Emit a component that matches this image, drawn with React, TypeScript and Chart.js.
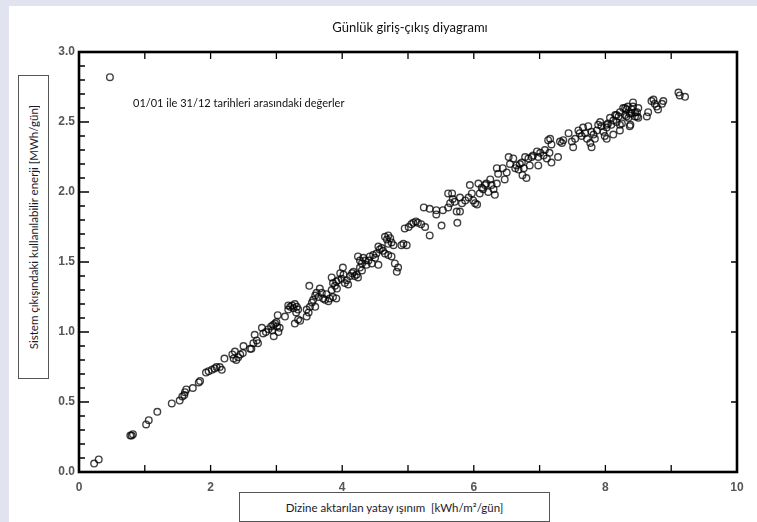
import React, { useEffect, useRef } from 'react';
import Chart from 'chart.js/auto';

const chartTitle = 'Günlük giriş-çıkış diyagramı';
const noteText = '01/01 ile 31/12 tarihleri arasındaki değerler';
const xAxisTitle = 'Dizine aktarılan yatay ışınım  [kWh/m²/gün]';
const yAxisTitle = 'Sistem çıkışındaki kullanılabilir enerji [MWh/gün]';

const xTickValues = [0, 2, 4, 6, 8, 10];
const xTickLabels = ['0', '2', '4', '6', '8', '10'];
const yTickValues = [0, 0.5, 1, 1.5, 2, 2.5, 3];
const yTickLabels = ['0.0', '0.5', '1.0', '1.5', '2.0', '2.5', '3.0'];

// [horizontal irradiation kWh/m²/day, usable energy MWh/day]
const outlierDays = [[0.47, 2.82]];
const segA = [
  [0.23, 0.06], [0.30, 0.09], [0.78, 0.26], [0.80, 0.26], [0.82, 0.27], [1.02, 0.34], [1.06, 0.37],
  [1.19, 0.43], [1.41, 0.49], [1.53, 0.51], [1.57, 0.54], [1.60, 0.55], [1.61, 0.57], [1.63, 0.59],
  [1.73, 0.60], [1.82, 0.64], [1.84, 0.65], [1.93, 0.71], [1.97, 0.72], [2.02, 0.73], [2.06, 0.74],
  [2.09, 0.75], [2.14, 0.75], [2.17, 0.73], [2.21, 0.81],
];
const segB = [
  [2.33, 0.84], [2.35, 0.81], [2.37, 0.86], [2.39, 0.80], [2.42, 0.82], [2.45, 0.84], [2.49, 0.85],
  [2.50, 0.90], [2.60, 0.88], [2.62, 0.88], [2.65, 0.92], [2.67, 0.98], [2.70, 0.94], [2.72, 0.92],
  [2.78, 1.03], [2.80, 0.99], [2.84, 1.00], [2.88, 1.02], [2.92, 1.04], [2.94, 1.01], [2.95, 1.05],
  [2.96, 0.97], [2.98, 1.06], [3.00, 1.07], [3.01, 1.04], [3.02, 1.12], [3.03, 1.00], [3.05, 1.03],
  [3.13, 1.11], [3.18, 1.16], [3.18, 1.19], [3.21, 1.18], [3.24, 1.19], [3.26, 1.17], [3.28, 1.20],
  [3.28, 1.06], [3.30, 1.14], [3.31, 1.18], [3.33, 1.16], [3.33, 1.09], [3.36, 1.08],
];
const segC = [
  [3.46, 1.16], [3.46, 1.11], [3.49, 1.14], [3.50, 1.33], [3.51, 1.18], [3.54, 1.21], [3.56, 1.23],
  [3.59, 1.26], [3.59, 1.18], [3.61, 1.28], [3.64, 1.25], [3.66, 1.31], [3.69, 1.28], [3.71, 1.24],
  [3.74, 1.23], [3.76, 1.27], [3.79, 1.22], [3.81, 1.24], [3.84, 1.30], [3.84, 1.39], [3.86, 1.25],
  [3.86, 1.35], [3.89, 1.33], [3.91, 1.36], [3.91, 1.24], [3.92, 1.31], [3.94, 1.37], [3.97, 1.42],
  [3.99, 1.38], [4.01, 1.46], [4.02, 1.41], [4.04, 1.35], [4.07, 1.37], [4.09, 1.34], [4.12, 1.40],
  [4.15, 1.42], [4.17, 1.43], [4.19, 1.40], [4.22, 1.41], [4.24, 1.39], [4.27, 1.46], [4.30, 1.44],
];
const segD = [
  [4.24, 1.54], [4.27, 1.51], [4.30, 1.49], [4.32, 1.53], [4.35, 1.51], [4.37, 1.48], [4.40, 1.51],
  [4.42, 1.54], [4.45, 1.49], [4.47, 1.55], [4.50, 1.53], [4.52, 1.56], [4.55, 1.61], [4.55, 1.48],
  [4.57, 1.59], [4.60, 1.60], [4.62, 1.58], [4.65, 1.56], [4.65, 1.68], [4.68, 1.66], [4.70, 1.69],
  [4.70, 1.63], [4.70, 1.55], [4.73, 1.67], [4.75, 1.64], [4.75, 1.54], [4.78, 1.62], [4.80, 1.49],
  [4.83, 1.43], [4.85, 1.46], [4.90, 1.62], [4.93, 1.63], [4.98, 1.62], [4.95, 1.74], [5.01, 1.75],
  [5.05, 1.77], [5.08, 1.78], [5.12, 1.79], [5.15, 1.78], [5.20, 1.77], [5.26, 1.75], [5.33, 1.69],
];
const segE = [
  [5.24, 1.89], [5.33, 1.88], [5.43, 1.87], [5.43, 1.84], [5.51, 1.76], [5.53, 1.87], [5.61, 1.89],
  [5.64, 1.92], [5.61, 1.99], [5.67, 1.99], [5.68, 1.95], [5.71, 1.93], [5.74, 1.86], [5.75, 1.78],
  [5.79, 1.96], [5.82, 1.92], [5.79, 1.86], [5.87, 1.94], [5.92, 1.96], [5.94, 2.05], [5.97, 1.99],
  [5.99, 1.94], [6.02, 1.92], [6.05, 1.91], [6.07, 2.06], [6.09, 1.99], [6.12, 2.03], [6.14, 2.02],
  [6.17, 2.05], [6.19, 2.06], [6.22, 2.00], [6.25, 2.09], [6.27, 2.05], [6.30, 2.02], [6.32, 1.98],
  [6.35, 2.06], [6.35, 2.17], [6.37, 2.13],
];
const segF = [
  [6.44, 2.17], [6.47, 2.09], [6.50, 2.14], [6.53, 2.25], [6.55, 2.20], [6.60, 2.24], [6.63, 2.17],
  [6.65, 2.19], [6.68, 2.16], [6.70, 2.20], [6.73, 2.21], [6.74, 2.12], [6.76, 2.17], [6.78, 2.25],
  [6.80, 2.10], [6.83, 2.24], [6.85, 2.19], [6.88, 2.25], [6.90, 2.26], [6.96, 2.29], [6.98, 2.25],
  [6.98, 2.19], [7.01, 2.28], [7.06, 2.26], [7.08, 2.30], [7.11, 2.24], [7.13, 2.37], [7.15, 2.28],
  [7.16, 2.38], [7.18, 2.34], [7.18, 2.21], [7.28, 2.25], [7.31, 2.36], [7.34, 2.35], [7.36, 2.37],
];
const segG = [
  [7.44, 2.42], [7.49, 2.36], [7.51, 2.32], [7.54, 2.38], [7.59, 2.44], [7.61, 2.42], [7.64, 2.40],
  [7.66, 2.46], [7.69, 2.42], [7.72, 2.38], [7.74, 2.47], [7.77, 2.35], [7.79, 2.32], [7.79, 2.43],
  [7.82, 2.41], [7.84, 2.38], [7.87, 2.44], [7.89, 2.48], [7.92, 2.50], [7.94, 2.47], [7.97, 2.43],
  [7.99, 2.40], [8.02, 2.46], [8.02, 2.38], [8.02, 2.48], [8.04, 2.49], [8.07, 2.53], [8.09, 2.48],
  [8.12, 2.51], [8.12, 2.41], [8.15, 2.55], [8.17, 2.50], [8.17, 2.55], [8.20, 2.54], [8.22, 2.57],
  [8.22, 2.48], [8.22, 2.44], [8.25, 2.49], [8.27, 2.60], [8.30, 2.55], [8.30, 2.60], [8.32, 2.59],
  [8.32, 2.54], [8.34, 2.61], [8.35, 2.53], [8.37, 2.47], [8.37, 2.56], [8.38, 2.48], [8.40, 2.56],
  [8.40, 2.59], [8.42, 2.61], [8.42, 2.64], [8.45, 2.57], [8.45, 2.54], [8.48, 2.54], [8.48, 2.57],
  [8.50, 2.60], [8.50, 2.53],
];
const segH = [
  [8.63, 2.54], [8.65, 2.57], [8.70, 2.65], [8.73, 2.66], [8.75, 2.63], [8.78, 2.61], [8.80, 2.59],
  [8.86, 2.63], [8.88, 2.65], [9.11, 2.71], [9.13, 2.69], [9.21, 2.68],
];

const allDays = [...outlierDays, ...segA, ...segB, ...segC, ...segD, ...segE, ...segF, ...segG, ...segH];

const framePlugin = {
  id: 'frameTicks',
  afterDatasetsDraw(chart: any) {
    const { ctx, chartArea: a, scales } = chart;
    const xs = scales.x;
    const ys = scales.y;
    ctx.save();
    ctx.strokeStyle = '#000';
    ctx.lineWidth = 1.3;
    ctx.beginPath();
    for (let v = 0; v <= 10; v++) {
      const px = xs.getPixelForValue(v);
      ctx.moveTo(px, a.bottom);
      ctx.lineTo(px, a.bottom - 7);
      ctx.moveTo(px, a.top);
      ctx.lineTo(px, a.top + 7);
    }
    for (let i = 0; i <= 30; i++) {
      const py = ys.getPixelForValue(i / 10);
      const major = i % 5 === 0;
      ctx.moveTo(a.left, py);
      ctx.lineTo(a.left + (major ? 10 : 6), py);
      if (major) {
        ctx.moveTo(a.right, py);
        ctx.lineTo(a.right - 6, py);
      }
    }
    ctx.stroke();
    ctx.lineWidth = 2.6;
    ctx.strokeRect(a.left, a.top, a.right - a.left, a.bottom - a.top);
    ctx.restore();
  },
};

export default function App() {
  const canvasRef = useRef<HTMLCanvasElement | null>(null);

  useEffect(() => {
    const canvas = canvasRef.current;
    if (!canvas) return;
    const tickFont = { family: '"Liberation Sans", Arial, sans-serif', size: 12, weight: 'bold' as const };
    const chart = new Chart(canvas, {
      type: 'scatter',
      data: {
        datasets: [
          {
            data: allDays.map(([x, y]) => ({ x, y })),
            pointRadius: 3.3,
            pointBorderWidth: 1.4,
            pointBorderColor: 'rgba(0,0,0,0.75)',
            pointBackgroundColor: 'rgba(0,0,0,0)',
            pointHoverRadius: 3.3,
          },
        ],
      },
      options: {
        responsive: false,
        animation: false,
        devicePixelRatio: 1,
        layout: { padding: { top: 52, right: 20, left: 0, bottom: 0 } },
        plugins: { legend: { display: false }, tooltip: { enabled: false }, title: { display: false } },
        scales: {
          x: {
            type: 'linear',
            min: 0,
            max: 10,
            grid: { display: false, drawTicks: false },
            border: { display: false },
            afterFit: (s: any) => { s.height = 50; },
            afterBuildTicks: (s: any) => { s.ticks = xTickValues.map((value) => ({ value })); },
            ticks: {
              padding: 8,
              color: '#555',
              font: tickFont,
              maxRotation: 0,
              callback: (_v: any, i: number) => xTickLabels[i],
            },
          },
          y: {
            type: 'linear',
            min: 0,
            max: 3,
            grid: { display: false, drawTicks: false },
            border: { display: false },
            afterFit: (s: any) => { s.width = 79; },
            afterBuildTicks: (s: any) => { s.ticks = yTickValues.map((value) => ({ value })); },
            ticks: {
              padding: 4,
              color: '#555',
              font: tickFont,
              callback: (_v: any, i: number) => yTickLabels[i],
            },
          },
        },
      },
      plugins: [framePlugin],
    });
    return () => chart.destroy();
  }, []);

  const textFont = 'Lato, "Open Sans", sans-serif';

  return (
    <div style={{ position: 'fixed', left: 0, top: 0, width: 757, height: 522, background: '#e1e4f0', overflow: 'hidden' }}>
      <div style={{ position: 'absolute', left: 9, top: 6, right: 0, bottom: 0, background: '#fff' }} />
      <canvas ref={canvasRef} width={757} height={522} style={{ position: 'absolute', left: 0, top: 0, width: 757, height: 522 }} />
      <div style={{ position: 'absolute', left: 260, top: 19, width: 300, textAlign: 'center', font: `13px ${textFont}`, color: '#111' }}>
        {chartTitle}
      </div>
      <div style={{ position: 'absolute', left: 133, top: 96, font: `11px ${textFont}`, color: '#111', whiteSpace: 'nowrap' }}>
        {noteText}
      </div>
      <div style={{ position: 'absolute', left: 18, top: 75, width: 29, height: 302, border: '1px solid #555', background: '#fff', display: 'flex', alignItems: 'center', justifyContent: 'center' }}>
        <div style={{ writingMode: 'vertical-rl', transform: 'rotate(180deg)', font: `11.5px ${textFont}`, color: '#1a1a2a', whiteSpace: 'nowrap' }}>
          {yAxisTitle}
        </div>
      </div>
      <div style={{ position: 'absolute', left: 239, top: 492, width: 309, height: 28, border: '1px solid #555', background: '#fff', display: 'flex', alignItems: 'center', justifyContent: 'center' }}>
        <div style={{ font: `11.5px ${textFont}`, color: '#1a1a2a', whiteSpace: 'pre' }}>{xAxisTitle}</div>
      </div>
    </div>
  );
}
